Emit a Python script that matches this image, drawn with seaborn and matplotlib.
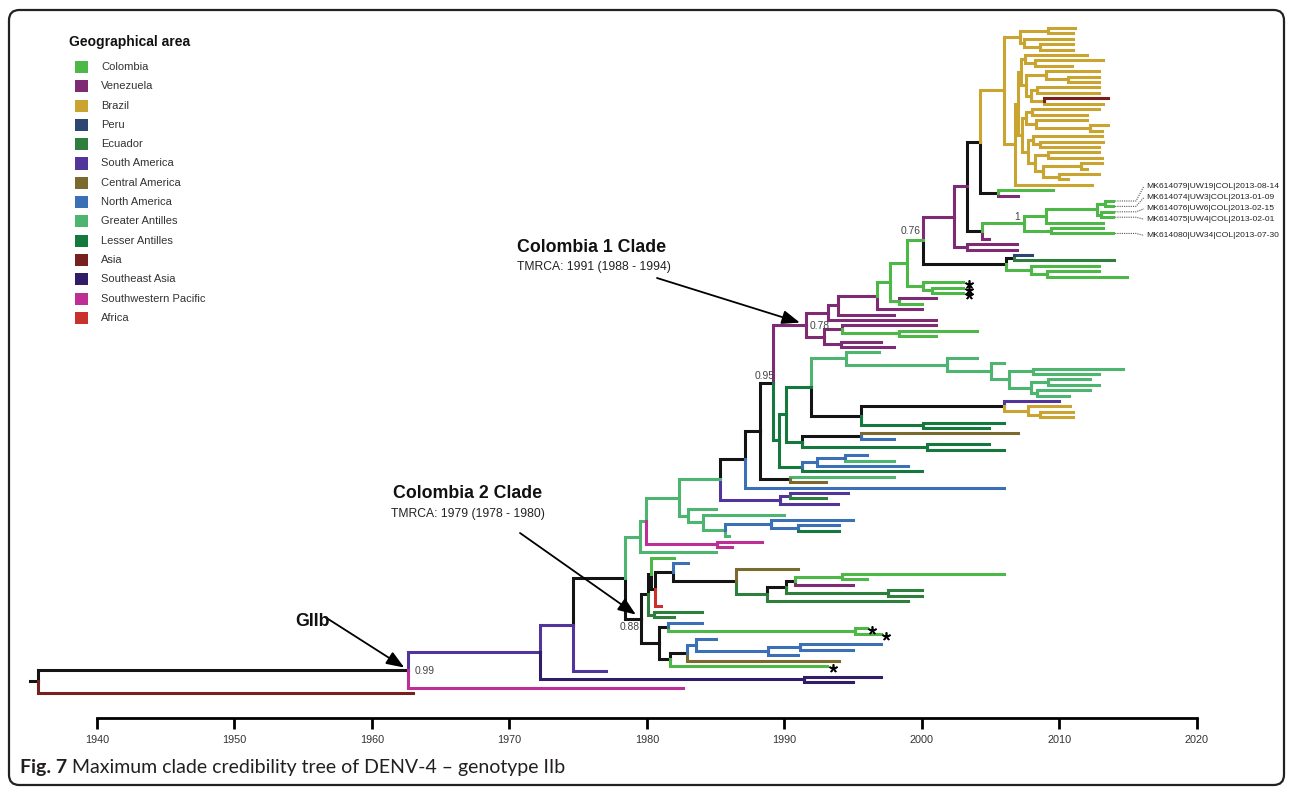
import matplotlib
matplotlib.use("Agg")
import matplotlib.pyplot as plt
from matplotlib.patches import FancyBboxPatch, Rectangle
import pandas as pd
import seaborn as sns

# -------------------------------
# Geographical areas (legend)
# -------------------------------
area_names = ["Colombia", "Venezuela", "Brazil", "Peru", "Ecuador", "South America",
              "Central America", "North America", "Greater Antilles", "Lesser Antilles",
              "Asia", "Southeast Asia", "Southwestern Pacific", "Africa"]
area_codes = ["CO", "VE", "BR", "PE", "EC", "SA", "CA", "NA", "GA", "LA",
              "AS", "SEA", "SWP", "AF"]
area_colors = ["#4db748", "#7e2b73", "#c9a430", "#2d4571", "#2e7f3d", "#52359a",
               "#7b6a2d", "#3b6fb6", "#4db56f", "#15793d", "#76201f", "#311d67",
               "#be2f95", "#c8312c"]
unknown_color = "#141414"   # black branches: area not resolved

years = [1940, 1950, 1960, 1970, 1980, 1990, 2000, 2010, 2020]


def T(year, area, mark=""):
    # tip: sampling year, area, optional mark ("*" or sequence label)
    return (year, area, mark)


def N(year, area, *children):
    # internal node: node age, area of branch leading to it, children
    return (year, area, list(children))


# -------------------------------
# Tree (node ages in years)
# -------------------------------
brazil_top = N(2007.1, "BR",
               N(2009.2, "BR", T(2011.1, "BR"), T(2011.0, "BR")),
               N(2007.4, "BR", T(2011.0, "BR"),
                 N(2008.6, "BR", T(2011.0, "BR"), T(2011.0, "BR"))))

brazil_mid = N(2007.2, "BR",
               N(2007.5, "BR", T(2012.0, "BR"), N(2008.2, "BR", T(2013.2, "BR"), T(2010.9, "BR"))),
               N(2007.6, "BR",
                 N(2009.0, "BR", T(2012.9, "BR"), N(2010.6, "BR", T(2012.9, "BR"), T(2012.9, "BR"))),
                 N(2007.9, "BR",
                   N(2008.4, "BR", T(2012.9, "BR"), T(2012.9, "BR")),
                   N(2008.9, "BR", T(2013.5, "AS"), T(2013.2, "BR")))))

brazil_low = N(2007.3, "BR",
               N(2007.6, "BR",
                 N(2008.0, "BR", T(2012.9, "BR"), T(2012.0, "BR")),
                 N(2008.3, "BR", T(2012.0, "BR"), N(2012.2, "BR", T(2013.5, "BR"), T(2013.1, "BR")))),
               N(2007.7, "BR",
                 N(2008.1, "BR", T(2013.1, "BR"), N(2008.6, "BR", T(2013.2, "BR"), T(2012.9, "BR"))),
                 N(2008.2, "BR",
                   N(2009.2, "BR", T(2012.9, "BR"), T(2013.1, "BR")),
                   N(2008.8, "BR",
                     N(2011.6, "BR", T(2013.1, "BR"), T(2012.0, "BR")),
                     N(2010.0, "BR", T(2012.9, "BR"), T(2010.6, "BR"))))))

brazil_clade = N(2006.0, "BR", brazil_top,
                 N(2006.8, "BR", N(2007.0, "BR", brazil_mid, brazil_low), T(2012.4, "BR")))

one_clade = N(2007.4, "CO",
              N(2009.0, "CO",
                N(2012.7, "CO",
                  N(2013.3, "CO", T(2013.9, "CO", "MK614079|UW19|COL|2013-08-14"),
                    T(2013.9, "CO", "MK614074|UW3|COL|2013-01-09")),
                  N(2013.0, "CO", T(2013.9, "CO", "MK614076|UW6|COL|2013-02-15"),
                    T(2013.9, "CO", "MK614075|UW4|COL|2013-02-01"))),
                T(2013.2, "CO")),
              N(2009.4, "CO", T(2013.2, "CO"), T(2013.9, "CO", "MK614080|UW34|COL|2013-07-30")))

n980 = N(2004.2, "UN", brazil_clade, N(2005.5, "UN", T(2009.5, "CO"), T(2007.0, "VE")))
n983 = N(2004.4, "UN", one_clade, T(2004.9, "VE"))
n953 = N(2002.3, "VE", N(2003.3, "VE", n980, n983),
         N(2003.3, "VE", T(2006.9, "VE"), T(2006.9, "VE")))
n1006 = N(2006.1, "UN", N(2006.7, "UN", T(2008.0, "PE"), T(2014.0, "EC")),
          N(2007.9, "CO", T(2012.9, "CO"), N(2009.1, "CO", T(2012.9, "CO"), T(2014.9, "CO"))))
n923 = N(2000.1, "CO", n953, n1006)
n924 = N(2000.1, "CO", T(2003.0, "CO", "*"),
         N(2000.7, "CO", T(2003.0, "CO", "*"), T(2003.0, "CO", "*")))
n890 = N(1997.7, "CO", N(1998.9, "CO", n923, n924),
         N(1998.3, "CO", T(2001.0, "VE"), T(2000.0, "CO")))
n829 = N(1993.2, "VE",
         N(1993.9, "VE", N(1996.7, "VE", n890, T(2000.0, "VE")), T(1998.0, "VE")),
         T(2001.0, "VE"))
n824 = N(1992.9, "VE",
         N(1994.2, "VE", T(2001.0, "VE"), N(1998.3, "CO", T(2004.0, "CO"), T(2001.0, "CO"))),
         N(1994.1, "VE", T(1997.0, "VE"), T(1998.0, "VE")))
col1 = N(1991.6, "VE", n829, n824)

ga_cluster = N(1994.5, "GA", T(1996.9, "GA"),
               N(2001.8, "GA", T(2004.0, "GA"),
                 N(2005.0, "GA", T(2006.0, "GA"),
                   N(2006.3, "GA",
                     N(2008.1, "GA", T(2014.6, "GA"), T(2012.9, "GA")),
                     N(2007.9, "GA",
                       N(2009.2, "GA", T(2012.2, "GA"), T(2012.9, "GA")),
                       N(2008.4, "GA", T(2012.2, "GA"), T(2010.7, "GA")))))))
n862 = N(1995.6, "UN",
         N(2006.0, "UN", T(2010.0, "SA"),
           N(2007.7, "BR", T(2010.8, "BR"), N(2008.6, "BR", T(2011.0, "BR"), T(2011.0, "BR")))),
         N(2000.1, "LA", T(2006.0, "LA"), T(2004.9, "LA")))
n803 = N(1991.3, "LA", N(1995.6, "UN", T(2007.0, "CA"), T(1998.0, "NA")),
         N(2000.4, "LA", T(2004.9, "LA"), T(2006.0, "LA")))
n803b = N(1991.3, "LA",
          N(1992.4, "NA", N(1994.4, "NA", T(1996.0, "NA"), T(1998.0, "GA")), T(1999.0, "NA")),
          T(2000.0, "LA"))
n778 = N(1989.6, "LA", N(1990.1, "LA", N(1991.9, "LA", ga_cluster, n862), n803), n803b)
n774 = N(1989.2, "UN", col1, n778)
n745 = N(1987.1, "UN",
         N(1988.2, "UN", n774, N(1990.4, "UN", T(1998.0, "GA"), T(1993.0, "CA"))),
         T(2006.0, "NA"))
n780 = N(1989.7, "SA", N(1990.4, "SA", T(1994.6, "SA"), T(1993.0, "EC")), T(1993.9, "SA"))
n688 = N(1983.0, "GA", T(1985.0, "GA"),
         N(1984.1, "GA", T(1990.0, "GA"),
           N(1985.7, "GA",
             N(1989.0, "NA", T(1995.0, "NA"), N(1991.0, "NA", T(1994.0, "NA"), T(1994.0, "LA"))),
             T(1986.0, "GA"))))
ga_clade = N(1979.5, "GA",
             N(1979.9, "GA", N(1982.3, "GA", N(1985.3, "GA", n745, n780), n688),
               N(1985.1, "SWP", T(1988.4, "SWP"), T(1986.2, "SWP"))),
             T(1985.0, "GA"))

n737 = N(1986.5, "UN", T(1991.0, "CA"),
         N(1988.7, "EC",
           N(1990.1, "UN",
             N(1990.8, "UN", N(1994.2, "CO", T(2006.0, "CO"), T(1996.0, "CO")), T(1995.0, "VE")),
             N(1997.5, "EC", T(2000.0, "EC"), T(2000.0, "EC"))),
           T(1999.0, "EC")))
n650 = N(1980.1, "UN",
         N(1980.3, "UN", T(1982.0, "CO"),
           N(1980.6, "UN", N(1981.9, "UN", T(1983.0, "NA"), n737), T(1981.0, "AF"))),
         N(1980.5, "EC", T(1984.0, "EC"), T(1982.0, "EC")))
n659 = N(1980.9, "UN",
         N(1981.5, "UN", T(1984.0, "NA"), N(1995.1, "CO", T(1996.0, "CO", "*"), T(1997.0, "CO", "*"))),
         N(1981.7, "UN",
           N(1982.9, "UN",
             N(1983.6, "NA", T(1985.0, "NA"),
               N(1988.8, "NA", N(1991.1, "NA", T(1997.0, "NA"), T(1995.0, "NA")), T(1991.0, "NA"))),
             T(1994.0, "CA")),
           T(1993.1, "CO", "*")))
col2 = N(1979.6, "UN", n650, n659)

giib = N(1962.6, "UN",
         N(1972.2, "SA",
           N(1974.6, "SA", N(1978.4, "UN", ga_clade, col2), T(1977.0, "SA")),
           N(1991.4, "SEA", T(1997.0, "SEA"), T(1995.0, "SEA"))),
         T(1982.6, "SWP"))
root = N(1935.7, "UN", giib, T(1963.0, "AS"))

support_nodes = [giib, col2, n774, col1, n923, one_clade]
support_text = ["0.99", "0.88", "0.95", "0.78", "0.76", "1"]

# -------------------------------
# Page layout (pixels)
# -------------------------------
W, H = 1292, 787
X_1940, PX_YEAR = 97, 13.75
ROW_TOP, ROW_BOTTOM = 28, 693
AX_L, AX_R, AX_T, AX_B = 20, 1285, 15, 718

pos = {}
tips = []


def place(node):
    if isinstance(node[2], list):
        ys = [place(c) for c in node[2]]
        y = (ys[0] + ys[-1]) / 2
    else:
        y = len(tips)
        tips.append(node)
    pos[id(node)] = (node[0], y)
    return y


place(root)
row_px = (ROW_BOTTOM - ROW_TOP) / (len(tips) - 1)

segs = []


def collect(node):
    if not isinstance(node[2], list):
        return
    x0, y0 = pos[id(node)]
    for c in node[2]:
        x1, y1 = pos[id(c)]
        segs.append((c[1], [(x0, y0), (x0, y1), (x1, y1)]))
        collect(c)


rx, ry = pos[id(root)]
segs.append(("UN", [(rx - 0.6, ry), (rx, ry)]))
collect(root)

rows = []
for sid, (area, pts) in enumerate(segs):
    for x, y in pts:
        rows.append({"seg": sid, "area": area, "x": x, "y": y})
seg_df = pd.DataFrame(rows)

palette = dict(zip(area_codes, area_colors))
palette["UN"] = unknown_color

sns.set_theme(style="white")
plt.rcParams["font.family"] = ["Liberation Sans", "DejaVu Sans"]

fig = plt.figure(figsize=(W / 100, H / 100), dpi=100)
fig.patch.set_facecolor("white")
ax = fig.add_axes([AX_L / W, 1 - AX_B / H, (AX_R - AX_L) / W, (AX_B - AX_T) / H])

sns.lineplot(data=seg_df, x="x", y="y", units="seg", hue="area", palette=palette,
             estimator=None, sort=False, legend=False, linewidth=2.2, ax=ax,
             solid_capstyle="projecting", solid_joinstyle="miter")

ax.set_xlim(1940 + (AX_L - X_1940) / PX_YEAR, 1940 + (AX_R - X_1940) / PX_YEAR)
ax.set_ylim((AX_B - ROW_TOP) / row_px, (AX_T - ROW_TOP) / row_px)
ax.set_xlabel("")
ax.set_ylabel("")
ax.set_yticks([])
ax.set_xticks(years)
ax.set_xticklabels([str(y) for y in years])
for s in ["left", "right", "top"]:
    ax.spines[s].set_visible(False)
ax.spines["bottom"].set_bounds(1940, 2020)
ax.spines["bottom"].set_linewidth(2.0)
ax.spines["bottom"].set_color("black")
ax.tick_params(axis="x", direction="out", length=8, width=2.0, color="black",
               labelsize=7.8, pad=4.5, labelcolor="#333333", bottom=True)

# stars on tips
star_x = [pos[id(t)][0] + 5.5 / PX_YEAR for t in tips if t[2] == "*"]
star_y = [pos[id(t)][1] + 2 / row_px for t in tips if t[2] == "*"]
ax.scatter(star_x, star_y, marker=(5, 2, 0), s=28, c="black", linewidths=1.2, zorder=5)

# labelled sequences with dotted leaders
leader_off = [-15, -9, -3, 2, 2]
labelled = [t for t in tips if len(t[2]) > 1]
lead_x0 = 1940 + (1136 - X_1940) / PX_YEAR
lead_x1 = 1940 + (1144 - X_1940) / PX_YEAR
for t, off in zip(labelled, leader_off):
    x, y = pos[id(t)]
    ly = y + off / row_px
    ax.plot([x + 0.15, lead_x0, lead_x1], [y, y, ly], ls=(0, (1, 1)), lw=0.8, color="#555555")
    ax.text(lead_x1 + 0.15, ly, t[2], fontsize=6.1, va="center", ha="left", color="#222222")

# support values
support_off = [(7, -1, "left"), (-2, -8, "right"), (1, 7, "right"),
               (3, -1, "left"), (-3, 9, "right"), (-4, 6, "right")]
for node, txt, (dx, dy, ha) in zip(support_nodes, support_text, support_off):
    ax.annotate(txt, xy=pos[id(node)], xytext=(dx, dy), textcoords="offset pixels",
                fontsize=7.4, color="#444444", ha=ha, va="center")

# clade arrows
arrow_kw = dict(arrowstyle="-|>,head_length=0.9,head_width=0.35", lw=1.3, color="black",
                shrinkA=0)
for node, (tx, ty), shrink in [(col1, (657, 278), 5), (col2, (520, 533), 5), (giib, (325, 617), 3)]:
    ax.annotate("", xy=pos[id(node)], xycoords="data", xytext=(tx, H - ty),
                textcoords="figure pixels", arrowprops=dict(arrow_kw, shrinkB=shrink))


def ftext(x, y, s, **kw):
    return fig.text(x / W, 1 - y / H, s, **kw)


ftext(517, 248, "Colombia 1 Clade", fontsize=12.8, fontweight="bold", va="center", color="#111111")
ftext(517, 267, "TMRCA: 1991 (1988 - 1994)", fontsize=8.7, va="center", color="#222222")
ftext(393, 494, "Colombia 2 Clade", fontsize=12.8, fontweight="bold", va="center", color="#111111")
ftext(391, 514, "TMRCA: 1979 (1978 - 1980)", fontsize=8.7, va="center", color="#222222")
ftext(295, 622, "GIIb", fontsize=12.8, fontweight="bold", va="center", color="#111111")

# legend
ftext(69, 42, "Geographical area", fontsize=10, fontweight="bold", va="center", color="#111111")
for i, (name, col) in enumerate(zip(area_names, area_colors)):
    yy = 67 + i * 19.3
    fig.add_artist(Rectangle((75 / W, 1 - (yy + 6) / H), 13 / W, 12 / H,
                             transform=fig.transFigure, facecolor=col, edgecolor="none"))
    ftext(101, yy, name, fontsize=8, va="center", color="#333333")

# caption
cap = ftext(20, 768, "Fig. 7", fontsize=14, fontweight="bold", va="center",
            family=["Lato", "DejaVu Sans"], color="#231f20")
bb = cap.get_window_extent(fig.canvas.get_renderer())
fig.text((bb.x1 + 5) / W, 1 - 768 / H, "Maximum clade credibility tree of DENV-4 \u2013 genotype IIb",
         fontsize=14, va="center", family=["Lato", "DejaVu Sans"], color="#231f20")

# frame
fig.add_artist(FancyBboxPatch((9 / W, 1 - 785 / H), 1275 / W, 775 / H,
                              boxstyle="round,pad=0,rounding_size=0.008",
                              mutation_aspect=W / H, transform=fig.transFigure,
                              fill=False, lw=1.6, edgecolor="#222222"))

fig.savefig("out.png", dpi=100, facecolor="white")
